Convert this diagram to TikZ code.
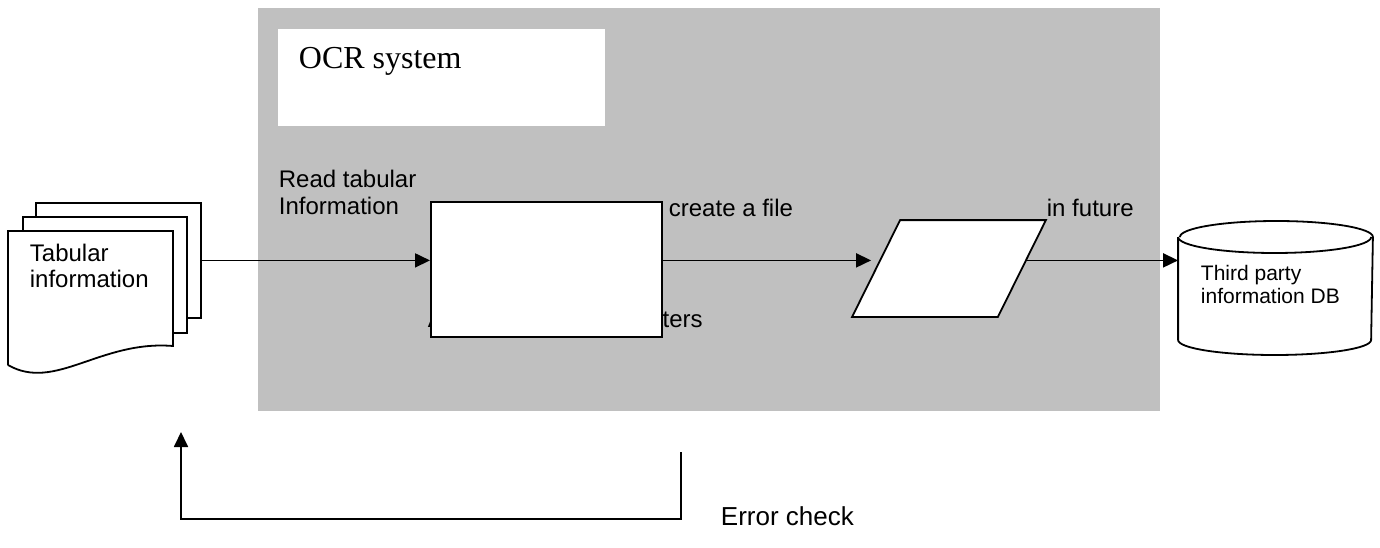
\documentclass[tikz,border=0pt]{standalone}
\usepackage{fontspec}
\setmainfont{Liberation Sans}
\newfontfamily\timesfont{Liberation Serif}
\usetikzlibrary{arrows.meta,positioning}

\definecolor{panelgray}{HTML}{C0C0C0}

\tikzset{
  box/.style={draw,fill=white,inner sep=0pt},
  frame/.style={inner sep=0pt},
  arr/.style={-{Triangle[length=15pt,width=14pt]}},
  lbl/.style={anchor=base west,inner sep=0pt,align=left,font=\fontsize{24}{26}\selectfont},
}

\begin{document}
\begin{tikzpicture}[x=1pt,y=-1pt,line width=1.8pt]
	\useasboundingbox (0,0) rectangle (1380,548);

	%system panel
	\fill[panelgray] (258,8) rectangle (1160,411);
	\node[fill=white,inner sep=0pt,minimum width=327pt,minimum height=97pt,anchor=north west] (ocrbox) at (277,28) {};
	\node[anchor=base west,inner sep=0pt,font=\timesfont\fontsize{32}{36}\selectfont] (ocr) at (298,69) {OCR system};

	%document stack
	\node[box,minimum width=165pt,minimum height=115pt,anchor=north west] (page3) at (35,202) {};
	\node[box,minimum width=164pt,minimum height=116pt,anchor=north west] (page2) at (22,216) {};
	\draw[fill=white] (8,365) -- (8,231) -- (173,231) -- (173,346)
	  .. controls (100,340) and (55,392) .. (8,365); %front page
	\node[lbl] (tab) at (29,287) {Tabular\\information};

	%process
	\node[lbl] (anl) at (427,327) {Analyse all the characters};
	\node[box,minimum width=231pt,minimum height=135pt,anchor=north west] (proc) at (430,201) {};
	\node[lbl] (read) at (278,214) {Read tabular\\Information};
	\node[lbl] (create) at (668,216) {create a file};

	%file (parallelogram)
	\node[frame,minimum width=192pt,minimum height=95pt] (file) at (949,268.5) {};
	\draw[fill=white] ([xshift=48pt]file.north west) -- (file.north east)
	  -- ([xshift=-48pt]file.south east) -- (file.south west) -- cycle;
	\node[lbl] (future) at (1046,216) {in future};

	%database (cylinder)
	\node[frame,minimum width=193pt,minimum height=134pt,anchor=north] (db) at (1275.5,221) {};
	\draw[fill=white] (db.west |- 0,237) -- (db.west |- 0,340)
	  arc[start angle=180,end angle=360,x radius=96.5pt,y radius=15pt]
	  -- (db.east |- 0,237)
	  arc[start angle=0,end angle=180,x radius=96.5pt,y radius=16pt];
	\draw (db.west |- 0,237) arc[start angle=180,end angle=360,x radius=96.5pt,y radius=16pt];
	\node[lbl,font=\fontsize{21}{23}\selectfont] (dbtxt) at (1200,303) {Third party\\information DB};

	%connectors
	\draw[arr] (page3.east) -- (proc.west |- page3.east);
	\draw[arr] (proc.east |- page3.east) -- ([xshift=19pt]file.west |- page3.east);
	\draw[arr] ([xshift=-19pt]file.east |- page3.east) -- (db.west |- page3.east);

	%error check loop
	\coordinate (chkstart) at (681,452);
	\coordinate (chkend) at (181,432);
	\draw[arr] (chkstart) -- ++(0,67) -| (chkend);
	\node[lbl,font=\fontsize{26}{28}\selectfont] (err) at (720,525) {Error check};
\end{tikzpicture}
\end{document}
